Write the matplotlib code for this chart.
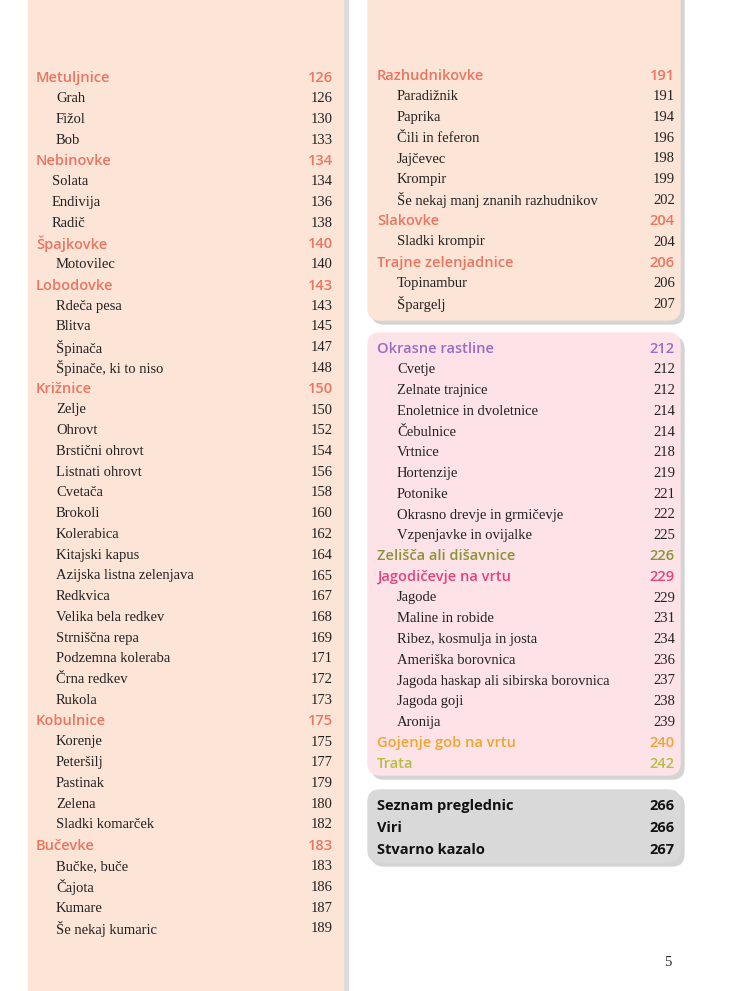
import matplotlib
matplotlib.use("Agg")
import matplotlib.pyplot as plt
from matplotlib.patches import FancyBboxPatch, Rectangle

# (text, page, kind) kind: h = heading, i = item, j = item less indented
left_entries = [
    ("Metuljnice", 126, "h"), ("Grah", 126, "i"), ("Fižol", 130, "i"), ("Bob", 133, "i"),
    ("Nebinovke", 134, "h"), ("Solata", 134, "j"), ("Endivija", 136, "j"), ("Radič", 138, "j"),
    ("Špajkovke", 140, "h"), ("Motovilec", 140, "i"),
    ("Lobodovke", 143, "h"), ("Rdeča pesa", 143, "i"), ("Blitva", 145, "i"),
    ("Špinača", 147, "i"), ("Špinače, ki to niso", 148, "i"),
    ("Križnice", 150, "h"), ("Zelje", 150, "i"), ("Ohrovt", 152, "i"),
    ("Brstični ohrovt", 154, "i"), ("Listnati ohrovt", 156, "i"), ("Cvetača", 158, "i"),
    ("Brokoli", 160, "i"), ("Kolerabica", 162, "i"), ("Kitajski kapus", 164, "i"),
    ("Azijska listna zelenjava", 165, "i"), ("Redkvica", 167, "i"),
    ("Velika bela redkev", 168, "i"), ("Strniščna repa", 169, "i"),
    ("Podzemna koleraba", 171, "i"), ("Črna redkev", 172, "i"), ("Rukola", 173, "i"),
    ("Kobulnice", 175, "h"), ("Korenje", 175, "i"), ("Peteršilj", 177, "i"),
    ("Pastinak", 179, "i"), ("Zelena", 180, "i"), ("Sladki komarček", 182, "i"),
    ("Bučevke", 183, "h"), ("Bučke, buče", 183, "i"), ("Čajota", 186, "i"),
    ("Kumare", 187, "i"), ("Še nekaj kumaric", 189, "i"),
]
right_top = [
    ("Razhudnikovke", 191, "h"), ("Paradižnik", 191, "i"), ("Paprika", 194, "i"),
    ("Čili in feferon", 196, "i"), ("Jajčevec", 198, "i"), ("Krompir", 199, "i"),
    ("Še nekaj manj znanih razhudnikov", 202, "i"),
    ("Slakovke", 204, "h"), ("Sladki krompir", 204, "i"),
    ("Trajne zelenjadnice", 206, "h"), ("Topinambur", 206, "i"), ("Špargelj", 207, "i"),
]
right_mid = [
    ("Okrasne rastline", 212, "#9b6cc4"), ("Cvetje", 212, "i"), ("Zelnate trajnice", 212, "i"),
    ("Enoletnice in dvoletnice", 214, "i"), ("Čebulnice", 214, "i"), ("Vrtnice", 218, "i"),
    ("Hortenzije", 219, "i"), ("Potonike", 221, "i"),
    ("Okrasno drevje in grmičevje", 222, "i"), ("Vzpenjavke in ovijalke", 225, "i"),
    ("Zelišča ali dišavnice", 226, "#8a9436"),
    ("Jagodičevje na vrtu", 229, "#e2457e"), ("Jagode", 229, "i"), ("Maline in robide", 231, "i"),
    ("Ribez, kosmulja in josta", 234, "i"), ("Ameriška borovnica", 236, "i"),
    ("Jagoda haskap ali sibirska borovnica", 237, "i"), ("Jagoda goji", 238, "i"),
    ("Aronija", 239, "i"),
    ("Gojenje gob na vrtu", 240, "#f0a52c"), ("Trata", 242, "#b4bf3c"),
]
extras = [("Seznam preglednic", 266), ("Viri", 266), ("Stvarno kazalo", 267)]

SALMON = "#ea7560"
SERIF = "Liberation Serif"
SANS = "Open Sans"
STEP = 20.75

fig = plt.figure(figsize=(7.45, 9.91), dpi=100)
ax = fig.add_axes([0, 0, 1, 1])
ax.set_xlim(0, 745)
ax.set_ylim(991, 0)
ax.axis("off")

# panels with soft shadows
ax.add_patch(Rectangle((32, 0), 316, 991, color="#dcdcdc", zorder=0))
ax.add_patch(Rectangle((28, 0), 315, 991, color="#fce4d7", zorder=1))
for (x0, y0, w, h, c) in [(368, -20, 312, 340, "#fce4d7"),
                          (368, 333, 312, 442, "#fde2e8"),
                          (368, 790, 312, 72, "#d9d9d9")]:
    ax.add_patch(FancyBboxPatch((x0 + 4, y0 + 4), w, h, boxstyle="round,pad=0,rounding_size=12",
                                color="#d4d4d4", zorder=0))
    ax.add_patch(FancyBboxPatch((x0, y0), w, h, boxstyle="round,pad=0,rounding_size=12",
                                color=c, zorder=1))


def draw(entries, y0, xh, xi, xn):
    for k, (name, page, kind) in enumerate(entries):
        y = y0 + k * STEP
        if kind == "i" or kind == "j":
            x = xi - 4 if kind == "j" else xi
            ax.text(x, y, name, fontsize=10.5, family=SERIF, color="#222222", va="center", zorder=3)
            ax.text(xn, y, str(page), fontsize=10.5, family=SERIF, color="#222222",
                    va="center", ha="right", zorder=3)
        else:
            col = SALMON if kind == "h" else kind
            ax.text(xh, y, name, fontsize=10.5, family=SANS, weight="semibold", color=col,
                    va="center", zorder=3)
            ax.text(xn, y, str(page), fontsize=10.5, family=SANS, weight="semibold", color=col,
                    va="center", ha="right", zorder=3)


draw(left_entries, 78, 36, 56, 333)
draw(right_top, 76, 377, 397, 675)
draw(right_mid, 349, 377, 397, 675)

for k, (name, page) in enumerate(extras):
    y = 806 + k * 22
    ax.text(377, y, name, fontsize=10.5, family=SANS, weight="bold", color="#111111", va="center", zorder=3)
    ax.text(675, y, str(page), fontsize=10.5, family=SANS, weight="bold", color="#111111",
            va="center", ha="right", zorder=3)

ax.text(668, 962, "5", fontsize=10.5, family=SERIF, color="#222222", va="center", ha="center")

fig.savefig("out.png", dpi=100)
